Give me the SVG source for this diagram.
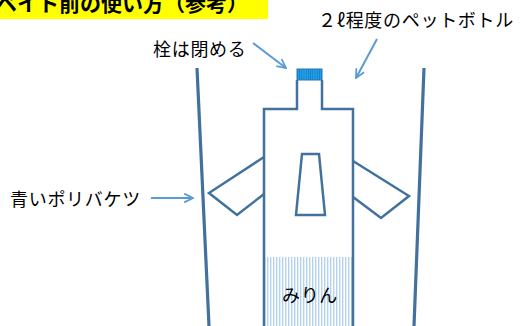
<svg xmlns="http://www.w3.org/2000/svg" width="521" height="326" viewBox="0 0 521 326">
  <defs>
    <style>
      .lbl { font-family: "Noto Sans CJK JP", "Noto Sans", sans-serif; font-size: 18px; fill: #000; letter-spacing: 0.7px; }
      .title { font-family: "Noto Sans CJK JP", "Noto Sans", sans-serif; font-size: 21px; font-weight: bold; fill: #000; }
      .shape { fill: none; stroke: #41719C; stroke-width: 2.5; stroke-linejoin: miter; }
      .bucket { fill: none; stroke: #41719C; stroke-width: 3.2; }
      .ptr { fill: none; stroke: #5B9BD5; stroke-width: 2; marker-end: url(#head); }
    </style>
    <marker id="head" viewBox="0 0 10 10" refX="9" refY="5" markerWidth="5.5" markerHeight="5.5" orient="auto" markerUnits="strokeWidth">
      <path d="M1,1 L9,5 L1,9" fill="none" stroke="#5B9BD5" stroke-width="1.6"/>
    </marker>
    <pattern id="liquid" width="3" height="4" patternUnits="userSpaceOnUse">
      <rect width="3" height="4" fill="#FFFFFF"/>
      <rect width="1.4" height="4" fill="#B4D2EE"/>
    </pattern>
    <pattern id="capStripes" width="2.2" height="4" patternUnits="userSpaceOnUse">
      <rect width="2.2" height="4" fill="#1FA0E8"/>
      <rect width="0.8" height="4" fill="#157EC0"/>
    </pattern>
  </defs>

  <!-- heading band -->
  <g id="title">
    <rect x="0" y="0" width="268" height="19" fill="#FFFF00"/>
    <text class="title" x="-4" y="11">ベイト前の使い方（参考）</text>
  </g>

  <!-- bucket walls -->
  <g id="bucket">
    <line class="bucket" x1="197" y1="68" x2="209" y2="326"/>
    <line class="bucket" x1="424" y1="68" x2="414" y2="326"/>
  </g>

  <!-- mirin in the bottle -->
  <g id="mirin">
    <rect x="265" y="257" width="87" height="70" fill="url(#liquid)"/>
    <text class="lbl" x="310" y="302" text-anchor="middle">みりん</text>
  </g>

  <!-- cut bottle -->
  <g id="bottle">
    <path class="shape" d="M264,330 L264,109 L297,109 L297,80 M322,80 L322,109 L353,109 L353,330"/>
    <polygon class="shape" points="302,154 319,154 325,215 296,215"/>
    <polyline class="shape" points="264,157 209,193 237,215 264,194"/>
    <polyline class="shape" points="353,161 409,196 381,218 353,197"/>
  </g>

  <!-- cap -->
  <g id="cap">
    <rect x="297" y="69" width="25" height="11" fill="url(#capStripes)" stroke="#2E75B6" stroke-width="1"/>
  </g>

  <!-- labels -->
  <g id="label-bottle">
    <text class="lbl" x="318" y="27">２ℓ程度のペットボトル</text>
  </g>
  <g id="label-cap">
    <text class="lbl" x="153" y="56">栓は閉める</text>
  </g>
  <g id="label-bucket">
    <text class="lbl" x="10" y="206">青いポリバケツ</text>
  </g>

  <!-- pointer arrows -->
  <g id="connectors">
    <line class="ptr" x1="253" y1="43" x2="286" y2="68"/>
    <line class="ptr" x1="377" y1="39" x2="356" y2="78"/>
    <line class="ptr" x1="151" y1="198" x2="193" y2="198"/>
  </g>
</svg>
